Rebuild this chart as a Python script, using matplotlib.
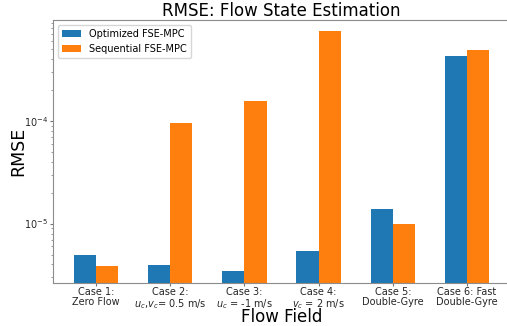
import numpy as np
import matplotlib
matplotlib.use('Agg')
import matplotlib.pyplot as plt

cases = ['Case 1:\nZero Flow',
         'Case 2:\n$u_c$,$v_c$= 0.5 m/s',
         'Case 3:\n$u_c$ = -1 m/s',
         'Case 4:\n$v_c$ = 2 m/s',
         'Case 5:\nDouble-Gyre',
         'Case 6: Fast\nDouble-Gyre']
rmse_optimized = [4.97e-6, 3.96e-6, 3.43e-6, 5.43e-6, 1.40e-5, 4.27e-4]
rmse_sequential = [3.85e-6, 9.5e-5, 1.56e-4, 7.5e-4, 1.0e-5, 4.93e-4]

fig = plt.figure(figsize=(5.07, 3.26), dpi=100)
ax = fig.add_axes([53/507, 1 - 282.5/326, 457/507, 262.5/326])

x = np.arange(len(cases))
w = 0.3
ax.bar(x - w/2, rmse_optimized, w, color='#1f77b4', label='Optimized FSE-MPC')
ax.bar(x + w/2, rmse_sequential, w, color='#ff7f0e', label='Sequential FSE-MPC')

ax.set_yscale('log')
ax.set_ylim(2.67e-6, 9.6e-4)
ax.set_xlim(-0.58, 5.58)
ax.set_xticks(x)
ax.set_xticklabels(cases, fontsize=7, linespacing=1.0)
ax.tick_params(axis='y', labelsize=7)
ax.tick_params(which='major', length=2.5, pad=1, colors='0.45', labelcolor='0.15')
ax.tick_params(which='minor', length=1.5, colors='0.55')

for s in ax.spines.values():
    s.set_color('0.55')

ax.set_title('RMSE: Flow State Estimation', fontsize=12, pad=3)
ax.set_xlabel('Flow Field', fontsize=12, labelpad=-2.2)
ax.set_ylabel('RMSE', fontsize=12.5, labelpad=-2.5)
ax.legend(loc='upper left', fontsize=7, frameon=True)

fig.savefig('out.png', dpi=100)
